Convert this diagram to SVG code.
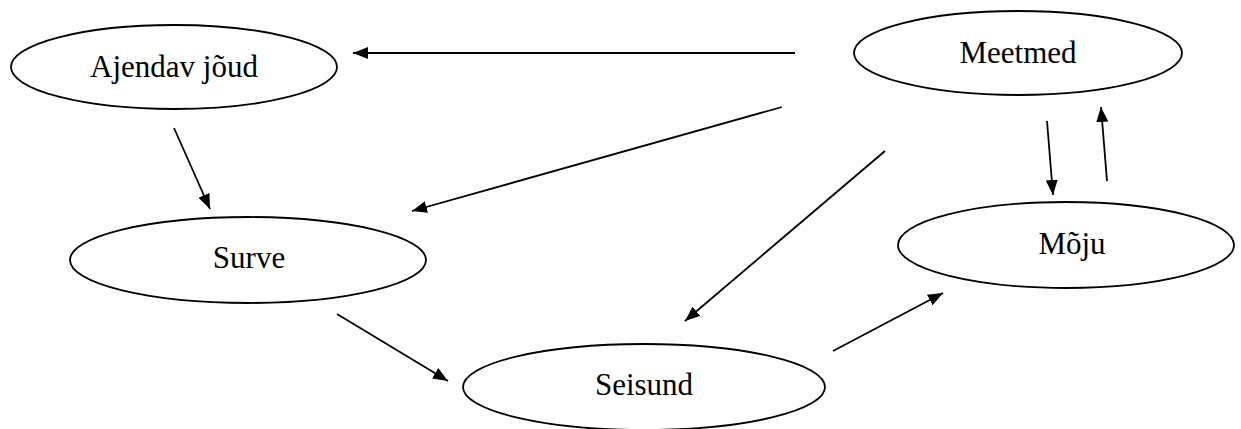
<svg xmlns="http://www.w3.org/2000/svg" width="1241" height="429" viewBox="0 0 1241 429">
<style>
.node ellipse{fill:#fff;stroke:#000;stroke-width:1.8}
.node text{font-family:"Liberation Serif","Times New Roman",serif;font-size:31px;fill:#000;text-anchor:middle}
.edges line{stroke:#000;stroke-width:1.8;marker-end:url(#ah)}
</style>
<defs>
<marker id="ah" markerUnits="userSpaceOnUse" markerWidth="16" markerHeight="12" refX="15" refY="6" orient="auto">
<path d="M0,0 L15,6 L0,12 z" fill="#000"/>
</marker>
</defs>
<rect width="1241" height="429" fill="#fff"/>
<g class="edges">
<line x1="795" y1="53" x2="353" y2="53"/>
<line x1="174" y1="128" x2="210" y2="209"/>
<line x1="782" y1="107" x2="412" y2="211"/>
<line x1="885" y1="151" x2="685" y2="321"/>
<line x1="1047" y1="121" x2="1053" y2="195"/>
<line x1="1107" y1="181" x2="1101" y2="107"/>
<line x1="337" y1="314" x2="448" y2="381"/>
<line x1="833" y1="351" x2="943" y2="293"/>
</g>
<g id="ajendav" class="node"><ellipse cx="174" cy="67" rx="163" ry="42"/><text x="174" y="77">Ajendav jõud</text></g>
<g id="meetmed" class="node"><ellipse cx="1018" cy="53" rx="164" ry="42"/><text x="1018" y="63">Meetmed</text></g>
<g id="surve" class="node"><ellipse cx="248" cy="260" rx="178" ry="43"/><text x="249" y="268">Surve</text></g>
<g id="moju" class="node"><ellipse cx="1066" cy="245" rx="168" ry="43"/><text x="1072" y="254">Mõju</text></g>
<g id="seisund" class="node"><ellipse cx="644" cy="387" rx="181" ry="43"/><text x="644" y="395">Seisund</text></g>
</svg>
